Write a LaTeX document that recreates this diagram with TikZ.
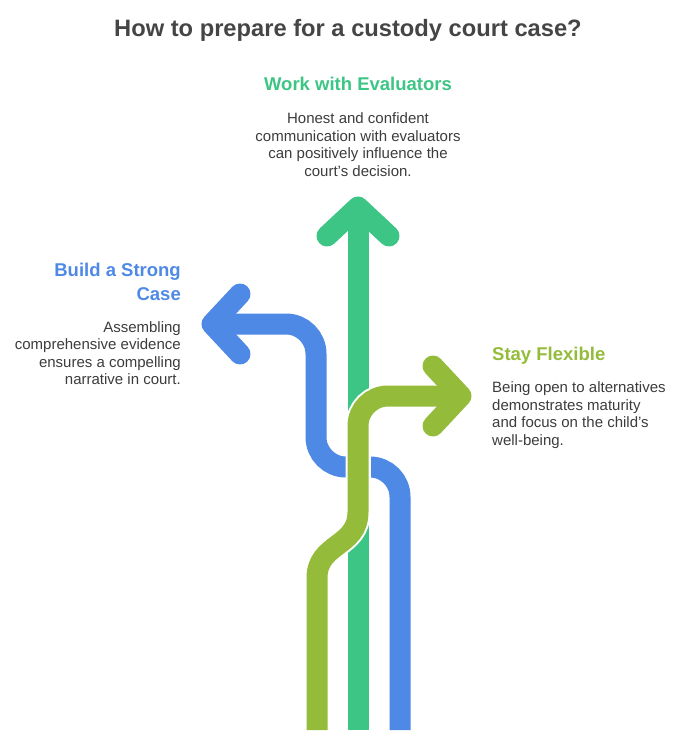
\documentclass[tikz,border=0pt]{standalone}
\usepackage{fontspec}
\setmainfont{Liberation Sans}
\usetikzlibrary{positioning}
\definecolor{casecol}{HTML}{4E89E6}
\definecolor{evalcol}{HTML}{3DC585}
\definecolor{flexcol}{HTML}{94BC3A}
\definecolor{titlecol}{HTML}{454545}
\definecolor{desccol}{HTML}{3C3C3C}

\begin{document}
\begin{tikzpicture}[x=1pt,y=-1pt,
 band/.style={draw=white,line width=2pt,double distance=21pt,rounded corners=30pt},
 head/.style={line width=21pt,line cap=round,line join=round},
 title/.style={font=\fontsize{23.7}{28}\selectfont\bfseries,text=titlecol},
 heading/.style={font=\fontsize{18.5}{24}\selectfont\bfseries,inner sep=0pt},
 desc/.style={font=\fontsize{15}{17.5}\selectfont,text=desccol,inner sep=0pt}]
 \useasboundingbox (0,0) rectangle (697,750);

 % start points of the three paths
 \coordinate (caseStart) at (400,730);
 \coordinate (evalStart) at (358,730);
 \coordinate (flexStart) at (317,730);

 % build a strong case (blue)
 \draw[band,double=casecol] (caseStart) -- (400,467) -- (316,467) -- (316,324) -- (222,324);
 \draw[head,casecol] (240,294) -- (212,324) -- (240,354);

 % work with evaluators (green)
 \draw[band,double=evalcol] (evalStart) -- (358,214);
 \draw[head,evalcol] (327,236) -- (358,207) -- (389,236);

 % stay flexible (olive)
 \draw[band,double=flexcol,sharp corners] (flexStart) -- (317,578)
   .. controls (317,543) and (358,547) .. (358,512) -- (358,426)
   arc[start angle=180,end angle=270,radius=30] -- (450,396);
 \draw[head,flexcol] (433,366) -- (461,396) -- (433,426);

 \node[title,anchor=base] (ttl) at (348,36) {How to prepare for a custody court case?};

 \node[heading,text=evalcol,anchor=base] (evalHead) at (358,90) {Work with Evaluators};
 \node[desc,align=center,anchor=north] (evalText) at (358,112.5)
   {Honest and confident\\communication with evaluators\\can positively influence the\\court's decision.};

 \node[heading,text=casecol,align=right,anchor=north east] (caseHead) at (181,262.5)
   {Build a Strong\\Case};
 \node[desc,align=right,anchor=north east] (caseText) at (181,321)
   {Assembling\\comprehensive evidence\\ensures a compelling\\narrative in court.};

 \node[heading,text=flexcol,anchor=base west] (flexHead) at (492,360) {Stay Flexible};
 \node[desc,align=left,anchor=north west] (flexText) at (492,381.5)
   {Being open to alternatives\\demonstrates maturity\\and focus on the child's\\well-being.};
\end{tikzpicture}
\end{document}
